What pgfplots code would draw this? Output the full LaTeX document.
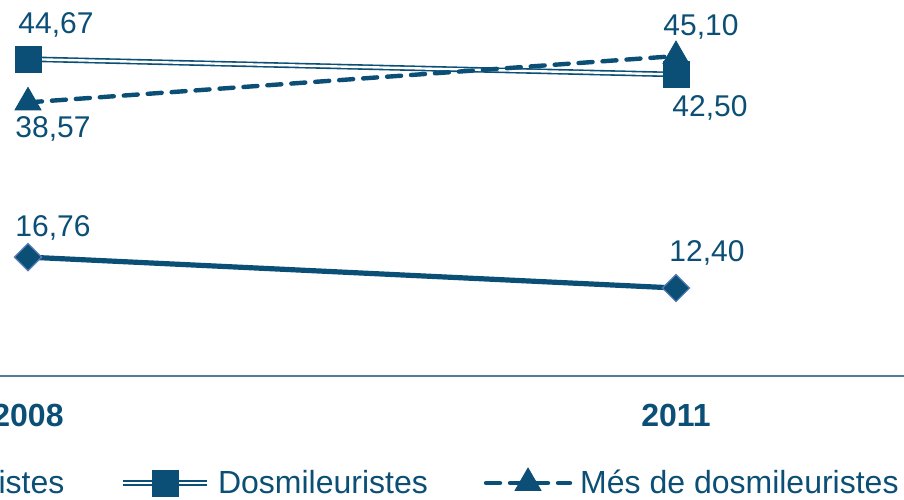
\documentclass[border=0pt]{standalone}
\usepackage{fontspec}
\setmainfont{Liberation Sans}
\usepackage{pgfplots}
\usepackage{pgfplotstable}
\pgfplotsset{compat=1.18}
\definecolor{main}{HTML}{0B4F76}
\definecolor{axisc}{HTML}{4F7F99}
\definecolor{diaedge}{HTML}{5A7DB8}

\pgfplotstableread{
x y
0 16.76
1 12.40
}\mileu
\pgfplotstableread{
x y
0 44.67
1 42.50
}\dosmil
\pgfplotstableread{
x y
0 38.57
1 45.10
}\mesdos

% label offsets for point 0 and point 1
\pgfplotsset{
  labpos/.style n args={4}{
    coordinate style/.condition={\coordindex==0}{xshift=#1pt, yshift=#2pt},
    coordinate style/.condition={\coordindex==1}{xshift=#3pt, yshift=#4pt}},
}

\begin{document}
\begin{tikzpicture}[x=1pt,y=1pt]
\path[use as bounding box] (0,-61.5) rectangle (452,188);
\clip (0,-61.5) rectangle (452,188);
\begin{axis}[
    width=452pt, height=188pt, scale only axis,
    at={(0,0)}, anchor=south west,
    xmin=-0.0432, xmax=1.3519, ymin=0, ymax=53,
    axis x line*=bottom, axis y line=none,
    x axis line style={draw=axisc, line width=1pt, -},
    xtick={0,1}, xticklabels={2008,2011},
    major tick length=0pt, ytick=\empty,
    xticklabel style={font=\fontsize{16}{19}\selectfont\bfseries, text=main, anchor=center, yshift=-19.5pt},
    clip=false,
    point meta=y,
    nodes near coords={\pgfmathprintnumber[fixed,fixed zerofill,precision=2,use comma,assume math mode=true]{\pgfplotspointmeta}},
    nodes near coords style={anchor=center, font=\fontsize{15}{18}\selectfont, text=main, solid},
    legend image code/.code={\draw[mark repeat=2,mark phase=2,#1] plot coordinates {(0pt,0pt) (21pt,0pt) (42pt,0pt)};},
    legend style={draw=none, fill=none, inner sep=0pt,
        at={(axis description cs:1.0033,-0.2846)}, anchor=east,
        nodes={font=\fontsize{16}{19}\selectfont, text=main, inner xsep=4pt},
        /tikz/every even column/.append style={column sep=24pt}},
    legend columns=3,
    legend cell align=left,
]
\addplot[draw=main, line width=2.6pt, mark=square*, mark size=4.8pt,
    mark options={fill=main, draw=diaedge, line width=0.6pt, rotate=45},
    labpos={12.5}{14.5}{15.5}{17.5}]
    table[x=x,y=y]{\mileu};
\addlegendentry{Mileuristes}
\addplot[draw=main, line width=0.8pt, double=white, double distance=1.2pt,
    mark=square*, mark size=6.5pt, mark options={fill=main, draw=main, line width=0.4pt},
    labpos={14}{17}{17}{-16.5}]
    table[x=x,y=y]{\dosmil};
\addlegendentry{Dosmileuristes}
\addplot[draw=main, line width=2.2pt, dash pattern=on 7pt off 5pt, line cap=round,
    mark=triangle*, mark size=7.5pt, mark options={solid, fill=main, draw=main, line width=0.4pt},
    labpos={12.5}{-13.5}{12.5}{14.5}]
    table[x=x,y=y]{\mesdos};
\addlegendentry{Més de dosmileuristes}
\end{axis}
\end{tikzpicture}
\end{document}
